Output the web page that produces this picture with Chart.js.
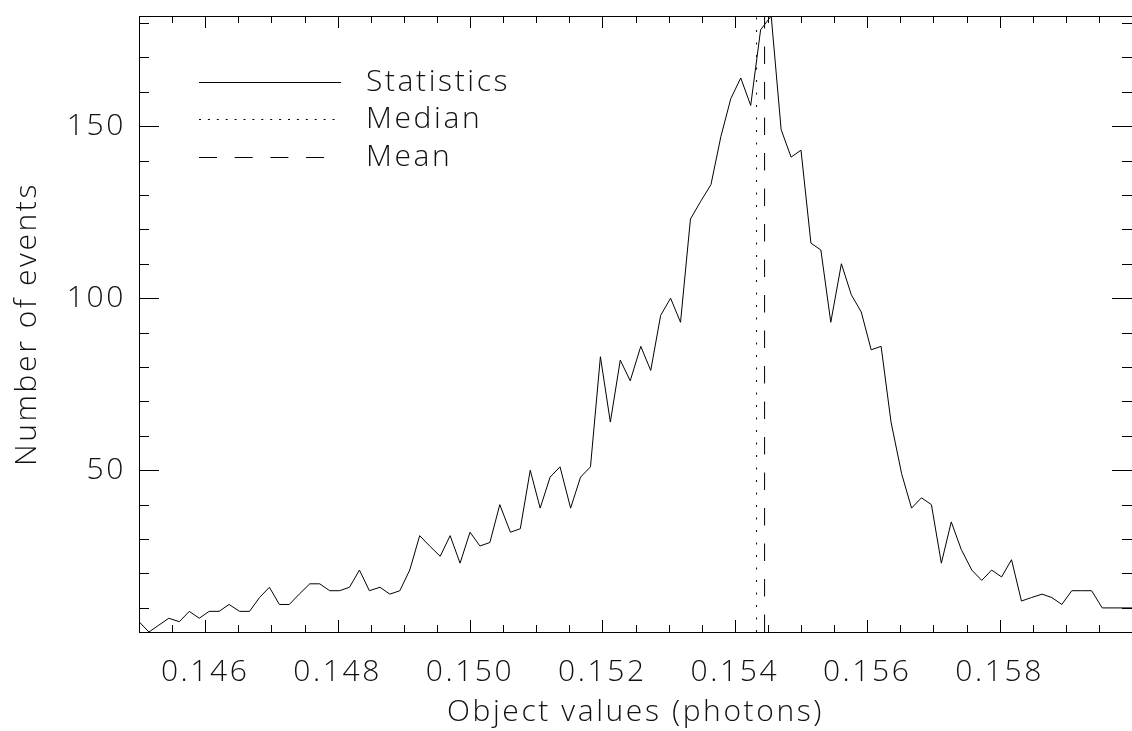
<!DOCTYPE html>
<html><head><meta charset="utf-8">
<script src="https://cdn.jsdelivr.net/npm/chart.js@4.4.1/dist/chart.umd.min.js"></script>
<style>html,body{margin:0;padding:0;background:#fff;overflow:hidden}#wrap{width:1132px;height:731px;position:relative}canvas{display:block}</style>
</head><body><div id="wrap"><canvas id="c" width="1132" height="731"></canvas></div>
<script>
// Histogram bin locations (photons)
const binCenters = [
 0.14500,0.14515,0.14530,0.14545,0.14561,0.14576,0.14591,0.14606,0.14621,0.14636,
 0.14652,0.14667,0.14682,0.14697,0.14712,0.14727,0.14742,0.14758,0.14773,0.14788,
 0.14803,0.14818,0.14833,0.14848,0.14864,0.14879,0.14894,0.14909,0.14924,0.14939,
 0.14955,0.14970,0.14985,0.15000,0.15015,0.15030,0.15045,0.15061,0.15076,0.15091,
 0.15106,0.15121,0.15136,0.15152,0.15167,0.15182,0.15197,0.15212,0.15227,0.15242,
 0.15258,0.15273,0.15288,0.15303,0.15318,0.15333,0.15348,0.15364,0.15379,0.15394,
 0.15409,0.15424,0.15439,0.15455,0.15470,0.15485,0.15500,0.15515,0.15530,0.15545,
 0.15561,0.15576,0.15591,0.15606,0.15621,0.15636,0.15652,0.15667,0.15682,0.15697,
 0.15712,0.15727,0.15742,0.15758,0.15773,0.15788,0.15803,0.15818,0.15833,0.15848,
 0.15864,0.15879,0.15894,0.15909,0.15924,0.15939,0.15955,0.15970,0.15985,0.16000
];
// Number of events per bin
const counts = [
 6,3,5,7,6,9,7,9,9,11,
 9,9,13,16,11,11,14,17,17,15,
 15,16,21,15,16,14,15,21,31,28,
 25,31,23,32,28,29,40,32,33,50,
 39,48,51,39,48,51,83,64,82,76,
 86,79,95,100,93,123,128,133,147,158,
 164,156,178,182,149,141,143,116,114,93,
 110,101,96,85,86,64,49,39,42,40,
 23,35,27,21,18,21,19,24,12,13,
 14,13,11,15,15,15,10,10,10,10
];
const medianValue = 0.154329;
const meanValue = 0.15445;
const seriesLabels = ['Statistics', 'Median', 'Mean'];
const xRange = [0.145, 0.160];
const yRange = [3, 182];
const xTickValues = [0.146, 0.148, 0.150, 0.152, 0.154, 0.156, 0.158];
const yTickValues = [50, 100, 150];
const xMinorStep = 0.0005;
const yMinorStep = 10;
const xTitle = 'Object values (photons)';
const yTitle = 'Number of events';

const FAMILY = '"Open Sans", "DejaVu Sans", sans-serif';
const FONT = {family: FAMILY, size: 30, weight: 300};
const TXT = '#111';
const SPACING = '2.6px';

const spacingPlugin = {
  id: 'spacing',
  beforeDraw(chart) { chart.ctx.letterSpacing = SPACING; }
};

const framePlugin = {
  id: 'frame',
  afterDraw(chart) {
    const ctx = chart.ctx, a = chart.chartArea;
    const xs = chart.scales.x, ys = chart.scales.y;
    ctx.save();
    ctx.strokeStyle = '#000';
    ctx.lineWidth = 1;
    ctx.setLineDash([]);
    ctx.strokeRect(a.left + 0.5, a.top + 0.5, a.right - a.left, a.bottom - a.top);
    ctx.beginPath();
    const nx = Math.round((xRange[1] - xRange[0]) / xMinorStep);
    for (let k = 0; k <= nx; k++) {
      const v = xRange[0] + k * xMinorStep;
      const major = xTickValues.some(t => Math.abs(t - v) < 1e-7);
      const p = Math.round(xs.getPixelForValue(v)) + 0.5;
      const len = major ? 12 : 7;
      ctx.moveTo(p, a.bottom); ctx.lineTo(p, a.bottom - len);
      ctx.moveTo(p, a.top); ctx.lineTo(p, a.top + len);
    }
    for (let v = yMinorStep; v <= yRange[1]; v += yMinorStep) {
      if (v < yRange[0]) continue;
      const major = yTickValues.includes(v);
      const p = Math.round(ys.getPixelForValue(v)) + 0.5;
      const len = major ? 20 : 10;
      ctx.moveTo(a.left, p); ctx.lineTo(a.left + len, p);
      ctx.moveTo(a.right, p); ctx.lineTo(a.right - len, p);
    }
    ctx.stroke();
    ctx.restore();
  }
};

const legendDash = [[], [2, 6.9], [18, 17.7]];
const legendPlugin = {
  id: 'idlLegend',
  afterDraw(chart) {
    const ctx = chart.ctx;
    const rows = [82, 119, 157];
    const x0 = 199, x1 = 341, tx = 366;
    ctx.save();
    chart.data.datasets.forEach((ds, i) => {
      ctx.beginPath();
      ctx.setLineDash(legendDash[i]);
      ctx.lineWidth = 1;
      ctx.strokeStyle = '#000';
      ctx.moveTo(x0, rows[i] + 0.5);
      ctx.lineTo(x1, rows[i] + 0.5);
      ctx.stroke();
      ctx.setLineDash([]);
      ctx.font = `${FONT.weight} ${FONT.size}px ${FAMILY}`;
      ctx.letterSpacing = SPACING;
      ctx.fillStyle = TXT;
      ctx.textAlign = 'left';
      ctx.textBaseline = 'middle';
      ctx.fillText(ds.label, tx, rows[i]);
    });
    ctx.restore();
  }
};

const ctx = document.getElementById('c').getContext('2d');
new Chart(ctx, {
  type: 'line',
  data: {
    datasets: [
      {label: seriesLabels[0], data: binCenters.map((x, i) => ({x: x, y: counts[i]})),
       borderColor: '#000', borderWidth: 1, pointRadius: 0, tension: 0, fill: false},
      {label: seriesLabels[1], data: [{x: medianValue, y: yRange[0]}, {x: medianValue, y: yRange[1]}],
       borderColor: '#000', borderWidth: 1, borderDash: [2, 10.5], pointRadius: 0, fill: false},
      {label: seriesLabels[2], data: [{x: meanValue, y: yRange[0]}, {x: meanValue, y: yRange[1]}],
       borderColor: '#000', borderWidth: 1, borderDash: [17.5, 18], pointRadius: 0, fill: false}
    ]
  },
  options: {
    responsive: false,
    animation: false,
    devicePixelRatio: 1,
    layout: {padding: {top: 16, right: 0, left: 0, bottom: 0}},
    plugins: {legend: {display: false}, tooltip: {enabled: false}},
    scales: {
      x: {
        type: 'linear', min: xRange[0], max: xRange[1],
        grid: {display: false, drawTicks: false}, border: {display: false},
        afterBuildTicks: s => { s.ticks = xTickValues.map(v => ({value: v})); },
        afterFit: s => { s.height = 99; s.paddingLeft = 0; s.paddingRight = 0; },
        ticks: {padding: 22, font: FONT, color: TXT, maxRotation: 0, autoSkip: false,
                callback: v => Number(v).toFixed(3)},
        title: {display: true, text: xTitle, font: FONT, color: TXT, padding: {top: 0, bottom: 1}}
      },
      y: {
        type: 'linear', min: yRange[0], max: yRange[1],
        grid: {display: false, drawTicks: false}, border: {display: false},
        afterBuildTicks: s => { s.ticks = yTickValues.map(v => ({value: v})); },
        afterFit: s => { s.width = 139; s.paddingTop = 0; s.paddingBottom = 0; },
        ticks: {padding: 13, font: FONT, color: TXT, autoSkip: false,
                callback: v => String(v)},
        title: {display: true, text: yTitle, font: FONT, color: TXT, padding: {top: 9, bottom: 0}}
      }
    }
  },
  plugins: [spacingPlugin, framePlugin, legendPlugin]
});
</script>
</body></html>
